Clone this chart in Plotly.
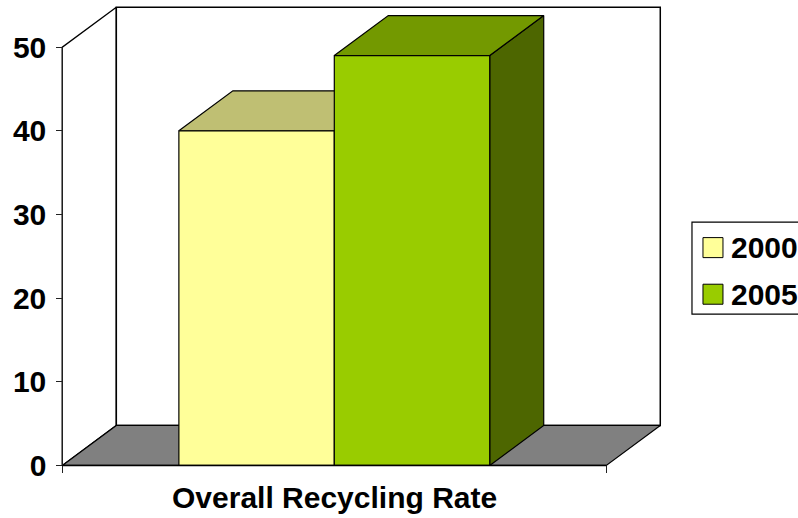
import plotly.graph_objects as go

# ---------------- data ----------------
category = "Overall Recycling Rate"
series_names = ["2000", "2005"]
series_values = [40, 49]
y_ticks = [0, 10, 20, 30, 40, 50]

# ---------------- styles ----------------
front_colors = ["#FFFF99", "#99CC00"]
top_colors = ["#BFBF73", "#739900"]
side_colors = ["#80804D", "#4D6600"]
FLOOR = "#808080"
EDGE = "#000000"
FONT = "Arial, Liberation Sans, sans-serif"

W, H = 798, 518
# pixel mapping of the front plane
X0_PX, XPX = 62.0, 544.0       # x=0 -> 62px ; 1 unit -> 544px
Y0_PX, YPX = 465.5, 8.364      # y=0 -> 465.5px ; 1 unit -> 8.364px
XMIN, XMAX = -0.03, 1.13
YMIN, YMAX = -1.5, 55.4
DX = 54.0 / XPX                # depth offset (x units)
DY = 40.0 / YPX                # depth offset (y units)
YTOP = 50

l = X0_PX + XMIN * XPX
pw = (XMAX - XMIN) * XPX
r = W - l - pw
t = Y0_PX - YMAX * YPX
pb = Y0_PX - YMIN * YPX
b = H - pb
ph = pb - t


def pxx(px):
    return (px - l) / pw


def pxy(py):
    return (pb - py) / ph


fig = go.Figure()


def poly(xs, ys, fill, lw=1.2):
    fig.add_trace(go.Scatter(
        x=list(xs) + [xs[0]], y=list(ys) + [ys[0]],
        mode="lines", fill="toself", fillcolor=fill,
        line=dict(color=EDGE, width=lw),
        hoverinfo="skip", showlegend=False))


# left wall
poly([0, DX, DX, 0], [0, DY, YTOP + DY, YTOP], "white", 1.3)
# back wall
poly([DX, 1 + DX, 1 + DX, DX], [DY, DY, YTOP + DY, YTOP + DY], "white", 1.5)
# floor
poly([0, 1, 1 + DX, DX], [0, 0, DY, DY], FLOOR, 1.2)

# bars
n = len(series_values)
bw = 1.0 / (n + 1.5)
gap = 0.75 * bw
for i, (name, v) in enumerate(zip(series_names, series_values)):
    x0 = gap + i * bw
    x1 = x0 + bw
    # right side
    poly([x1, x1 + DX, x1 + DX, x1], [0, DY, v + DY, v], side_colors[i])
    # top
    poly([x0, x1, x1 + DX, x0 + DX], [v, v, v + DY, v + DY], top_colors[i])
    # front
    poly([x0, x1, x1, x0], [0, 0, v, v], front_colors[i])

# front axis lines
fig.add_trace(go.Scatter(x=[0, 0], y=[0, YTOP], mode="lines",
                         line=dict(color="#222222", width=1.2),
                         hoverinfo="skip", showlegend=False))
fig.add_trace(go.Scatter(x=[0, 1], y=[0, 0], mode="lines",
                         line=dict(color=EDGE, width=1.5),
                         hoverinfo="skip", showlegend=False))

# category label
fig.add_annotation(x=0.5, xref="x", y=pxy(497.5), yref="paper",
                   text=category, showarrow=False, xanchor="center",
                   yanchor="middle",
                   font=dict(family=FONT, size=30, color="black", weight="bold"))

# legend (drawn manually so it can run off the right edge like the original)
fig.add_shape(type="rect", xref="paper", yref="paper",
              x0=pxx(691.7), x1=pxx(830), y0=pxy(314.3), y1=pxy(222.3),
              line=dict(color=EDGE, width=1.2), fillcolor="white")
sw_top = [237.7, 284.3]
for i, name in enumerate(series_names):
    fig.add_shape(type="rect", xref="paper", yref="paper",
                  x0=pxx(702.7), x1=pxx(722.7),
                  y0=pxy(sw_top[i] + 20), y1=pxy(sw_top[i]),
                  line=dict(color=EDGE, width=1), fillcolor=front_colors[i])
    fig.add_annotation(x=pxx(728.5), xref="paper", y=pxy(sw_top[i] + 10), yref="paper",
                       text=name, showarrow=False, xanchor="left", yanchor="middle",
                       font=dict(family=FONT, size=30, color="black", weight="bold"))

fig.update_layout(
    width=W, height=H,
    margin=dict(l=l, r=r, t=t, b=b, pad=0),
    paper_bgcolor="white", plot_bgcolor="white",
    showlegend=False,
    xaxis=dict(range=[XMIN, XMAX], showgrid=False, zeroline=False, showline=False,
               anchor="free", position=(0 - YMIN) / (YMAX - YMIN),
               tickvals=[0, 1], ticktext=["", ""], ticks="outside", ticklen=7,
               tickcolor="#222222", tickwidth=1.2, fixedrange=True),
    yaxis=dict(range=[YMIN, YMAX], showgrid=False, zeroline=False, showline=False,
               anchor="free", position=(0 - XMIN) / (XMAX - XMIN),
               tickvals=y_ticks, ticks="outside", ticklen=6, tickwidth=1.2,
               tickcolor="#222222", ticklabelstandoff=4,
               tickfont=dict(family=FONT, size=30, color="black", weight="bold"),
               fixedrange=True),
)

fig.write_html("out.html")
